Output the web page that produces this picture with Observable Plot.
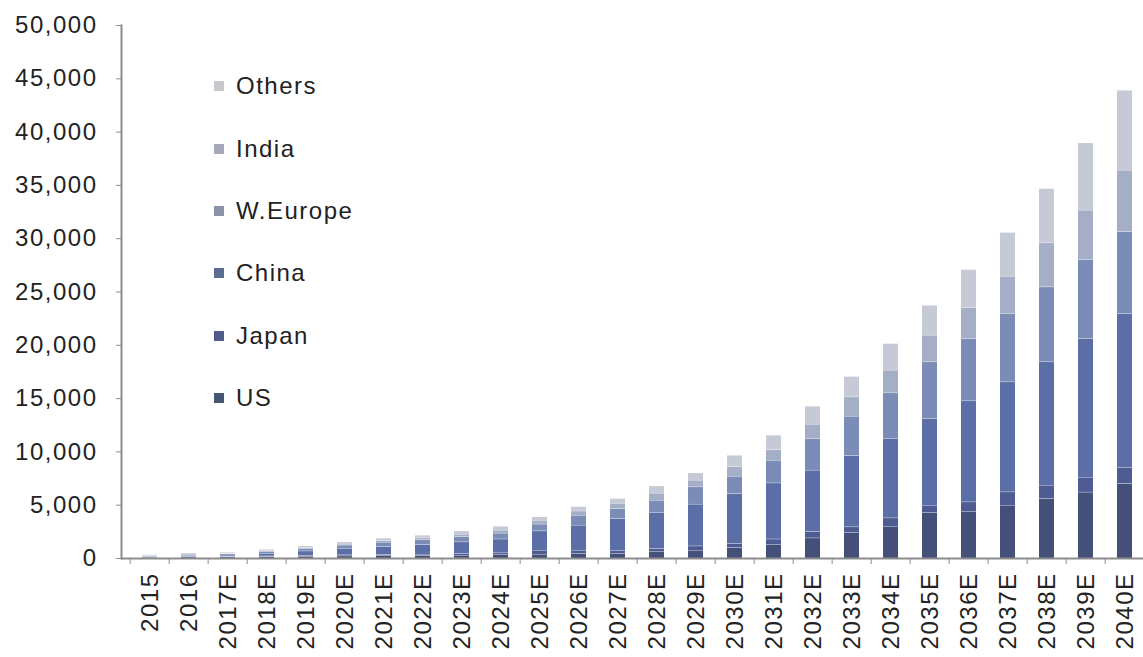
<!DOCTYPE html>
<html><head><meta charset="utf-8">
<script src="https://cdn.jsdelivr.net/npm/d3@7"></script>
<script src="https://cdn.jsdelivr.net/npm/@observablehq/plot@0.6"></script>
<style>
body{margin:0;background:#fff;}
#wrap{position:relative;width:1143px;height:657px;overflow:hidden;}
#legend{position:absolute;left:214px;top:55px;font-family:"Liberation Sans",Arial,sans-serif;font-size:24px;letter-spacing:1.5px;color:#222;}
.item{display:flex;align-items:center;height:62.4px;}
.sw{width:10px;height:10px;margin-right:12px;flex:none;}
</style>
</head><body>
<div id="wrap"><div id="legend"></div></div>
<script>
const years = ["2015","2016","2017E","2018E","2019E","2020E","2021E","2022E","2023E","2024E","2025E","2026E","2027E","2028E","2029E","2030E","2031E","2032E","2033E","2034E","2035E","2036E","2037E","2038E","2039E","2040E"];
const seriesNames = ["US","Japan","China","W.Europe","India","Others"];
const us      = [80,110,120,150,180,210,230,250,280,320,375,440,450,600,750,1000,1300,1900,2420,3000,4300,4400,4970,5600,6200,7000];
const japan   = [30,40,40,60,80,100,120,130,150,180,375,310,250,300,400,380,500,600,520,780,670,880,1250,1250,1400,1480];
const china   = [60,100,130,250,420,620,750,900,1100,1300,1810,2350,3020,3400,3920,4690,5260,5760,6680,7420,8140,9480,10320,11570,13010,14480];
const weurope = [70,110,120,180,230,300,400,450,500,550,640,930,940,1140,1620,1620,2130,2970,3700,4310,5310,5850,6420,7030,7410,7660];
const india   = [20,30,40,60,80,100,150,180,220,280,360,400,490,660,630,880,1000,1340,1810,2130,2500,2910,3490,4130,4630,5780];
const others  = [80,110,110,140,170,200,230,250,310,370,320,420,450,680,680,1090,1350,1690,1920,2500,2810,3560,4110,5100,6310,7500];
const yTicks = [0,5000,10000,15000,20000,25000,30000,35000,40000,45000,50000];
const colors = ["#44507a","#4e5c93","#5b6fa6","#7b8cb6","#a4aec6","#c6c9d6"];
const legendColors = ["#465478","#505d8c","#5c6b94","#8a93a8","#a7a9b8","#c8c8cc"];

const valuesBySeries = [us, japan, china, weurope, india, others];
const table = [];
seriesNames.forEach((s, k) => years.forEach((y, i) => table.push({year: y, series: s, value: valuesBySeries[k][i]})));

const W = 1143, H = 657, mL = 121, mR = 0, mT = 25, mB = 99;
const xEnd = 1153; // the reference crops the plot area on the right
const step = (xEnd - mL) / years.length;
const font = '"Liberation Sans", Arial, sans-serif';

const chart = Plot.plot({
  width: W, height: H,
  marginLeft: mL, marginRight: mR, marginTop: mT, marginBottom: mB,
  style: {fontFamily: font, fontSize: "24px", color: "#222", background: "#fff", letterSpacing: "1.5px"},
  x: {type: "band", domain: years, range: [mL, xEnd], paddingInner: 0.62, paddingOuter: 0.31, label: null},
  y: {domain: [0, 50000], label: null},
  color: {domain: seriesNames, range: colors},
  marks: [
    Plot.barY(table, {x: "year", y: "value", fill: "series", order: seriesNames, insetTop: 0.4}),
    Plot.ruleY([0], {stroke: "#8c8c8c", strokeWidth: 2}),
    Plot.frame({anchor: "left", stroke: "#8c8c8c", strokeWidth: 2}),
    Plot.axisY({ticks: yTicks, tickFormat: d3.format(","), tickSize: 5, tickPadding: 19, stroke: "#8c8c8c", fill: "#222", label: null}),
    Plot.axisX({tickSize: 0, tickPadding: 14, tickRotate: -90, fill: "#222", label: null}),
    Plot.axisX({tickSize: 6, text: null, dx: -step / 2, stroke: "#8c8c8c", label: null})
  ]
});
document.getElementById("wrap").prepend(chart);

const legend = document.getElementById("legend");
for (let k = seriesNames.length - 1; k >= 0; k--) {
  const row = document.createElement("div");
  row.className = "item";
  const sw = document.createElement("span");
  sw.className = "sw";
  sw.style.background = legendColors[k];
  const t = document.createElement("span");
  t.textContent = seriesNames[k];
  row.append(sw, t);
  legend.append(row);
}
</script>
</body></html>
